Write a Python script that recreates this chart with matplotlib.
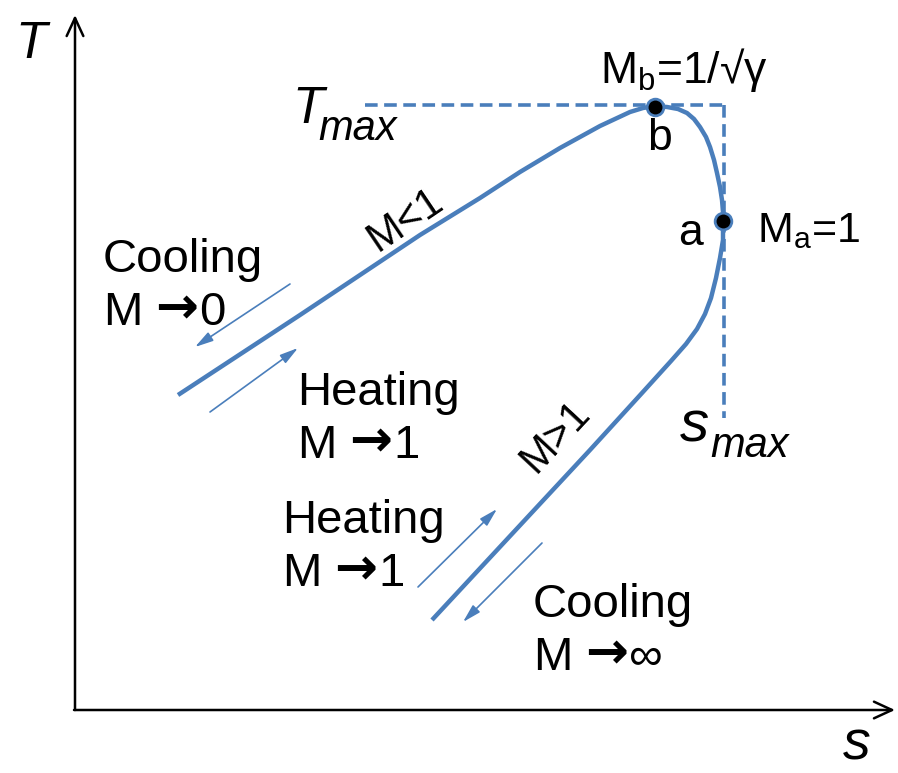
import matplotlib
matplotlib.use("Agg")
import matplotlib.pyplot as plt

plt.rcParams['font.family'] = ['Liberation Sans', 'DejaVu Sans']
plt.rcParams['mathtext.fontset'] = 'custom'
plt.rcParams['mathtext.rm'] = 'Liberation Sans'
plt.rcParams['mathtext.it'] = 'Liberation Sans:italic'

# Rayleigh line (s along x, T along y)
# from the M->0 end, over b (T max), a (s max), down to the M->inf end
curve_s = [1.03, 2.25, 3.45, 4.05, 4.45, 4.85, 5.25, 5.55, 5.68, 5.80,
           5.92, 6.03, 6.12, 6.19, 6.25, 6.31, 6.35, 6.39, 6.42, 6.45,
           6.47, 6.48, 6.48, 6.48, 6.45, 6.41, 6.36, 6.30, 6.22, 6.11,
           5.96, 5.67, 5.15, 3.57]
curve_T = [3.15, 3.95, 4.75, 5.12, 5.38, 5.62, 5.84, 5.98, 6.02, 6.04,
           6.03, 6.01, 5.97, 5.91, 5.83, 5.73, 5.63, 5.50, 5.37, 5.23,
           5.10, 4.98, 4.89, 4.70, 4.52, 4.32, 4.12, 3.96, 3.81, 3.66,
           3.49, 3.17, 2.60, 0.90]

point_b = (5.80, 6.03)
point_a = (6.48, 4.89)
T_max = 6.05
s_max = 6.49
T_line_start = 2.90
s_line_bottom = 2.92

# little process arrows: (start, end)
proc_arrows = [((2.15, 4.26), (1.20, 3.63)),   # cooling, subsonic
               ((1.35, 2.98), (2.23, 3.62)),   # heating, subsonic
               ((3.43, 1.23), (4.22, 2.01)),   # heating, supersonic
               ((4.67, 1.67), (3.88, 0.88))]   # cooling, supersonic

# process labels: word, limit, left edge, baseline of first line
proc_words = ['Cooling', 'Heating', 'Heating', 'Cooling']
proc_limits = ['0', '1', '1', '∞']
proc_x = [0.28, 2.22, 2.07, 4.58]
proc_y = [4.38, 3.05, 1.77, 0.93]

blue = '#4A7EBB'

fig = plt.figure(figsize=(8.98, 7.73), dpi=100)
ax = fig.add_axes([0, 0, 1, 1])
ax.set_xlim(-0.75, 8.23)
ax.set_ylim(-0.63, 7.10)
ax.axis('off')

# axes with arrows
ax.annotate('', xy=(0, 6.95), xytext=(0, 0),
            arrowprops=dict(arrowstyle='->,head_length=1.3,head_width=0.6',
                            lw=1.8, color='black', shrinkA=0, shrinkB=0))
ax.annotate('', xy=(8.20, 0), xytext=(-0.01, 0),
            arrowprops=dict(arrowstyle='->,head_length=1.3,head_width=0.6',
                            lw=1.8, color='black', shrinkA=0, shrinkB=0))

# dashed limits
ax.plot([T_line_start, s_max], [T_max, T_max], color=blue, lw=2.6,
        dashes=(3.5, 1.8))
ax.plot([s_max, s_max], [T_max, s_line_bottom], color=blue, lw=2.6,
        dashes=(3.5, 1.8))

ax.plot(curve_s, curve_T, color=blue, lw=3.2, solid_capstyle='butt',
        solid_joinstyle='round')

for p in (point_b, point_a):
    ax.plot(*p, 'o', ms=12, mfc='black', mec=blue, mew=2, zorder=5)

for start, end in proc_arrows:
    ax.annotate('', xy=end, xytext=start,
                arrowprops=dict(arrowstyle='-|>,head_length=1.1,head_width=0.3',
                                lw=1.2, color=blue, shrinkA=0, shrinkB=0))

fs = 34
ax.text(-0.60, 6.52, 'T', fontsize=37, style='italic')
ax.text(7.68, -0.62, 's', fontsize=40, style='italic', va='bottom')

ax.text(2.17, 5.87, 'T', fontsize=37, style='italic')
ax.text(2.43, 5.70, 'max', fontsize=30, style='italic')
ax.text(6.05, 2.68, 's', fontsize=42, style='italic')
ax.text(6.35, 2.53, 'max', fontsize=30, style='italic')

ax.text(5.25, 6.27, r'$\mathrm{M_b}$=1/√γ', fontsize=32)
ax.text(5.72, 5.60, 'b', fontsize=32)
ax.text(6.03, 4.65, 'a', fontsize=32)
ax.text(6.82, 4.68, r'$\mathrm{M_a}$=1', fontsize=31)

ax.text(3.30, 4.90, 'M<1', fontsize=30, rotation=34, ha='center',
        va='center', rotation_mode='anchor')
ax.text(4.81, 2.73, 'M>1', fontsize=30, rotation=47, ha='center',
        va='center', rotation_mode='anchor')

for word, lim, x, y in zip(proc_words, proc_limits, proc_x, proc_y):
    ax.text(x, y, word, fontsize=fs)
    y2 = y - 0.53
    ax.text(x, y2, 'M', fontsize=fs)
    ax.text(x + 0.52, y2 + 0.02, '→', fontsize=37, family='DejaVu Sans',
            fontweight='bold')
    ax.text(x + 0.96, y2, lim, fontsize=fs)

fig.savefig('out.png', dpi=100)
